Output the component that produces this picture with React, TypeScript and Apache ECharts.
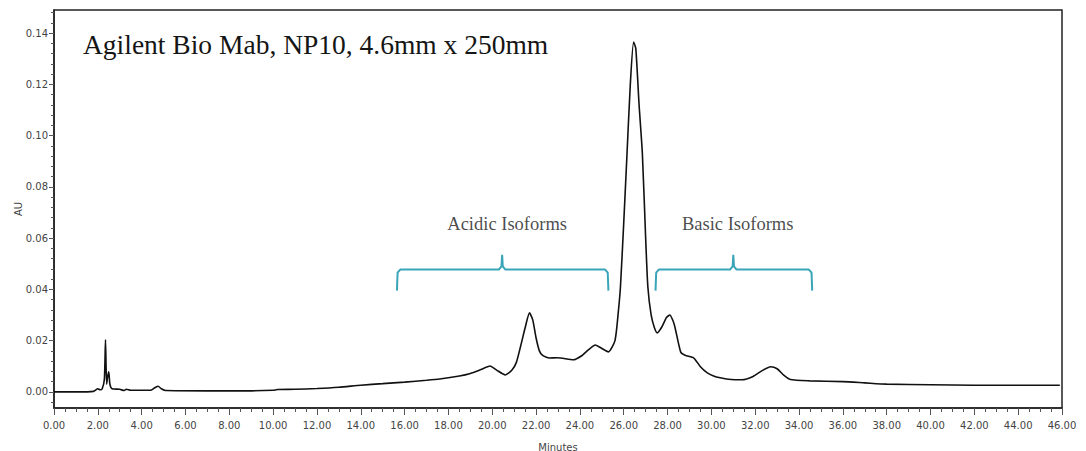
import React, { useEffect, useRef } from "react";
import * as echarts from "echarts";

// Chromatogram trace: retention time (minutes) and absorbance (AU)
const times: number[] = [
  0.0, 1.0, 1.8, 2.0, 2.1, 2.2, 2.3, 2.35, 2.4, 2.45, 2.5, 2.55, 2.65, 3.0, 3.2, 3.3, 3.5,
  4.4, 4.6, 4.75, 4.9, 5.1, 7.0, 9.0, 10.0, 10.2, 11.0, 12.0, 13.0, 14.0, 15.0, 16.0, 17.0,
  17.6, 18.5, 19.0, 19.45, 19.9, 20.2, 20.6, 20.9, 21.1, 21.3, 21.5, 21.7, 21.85, 22.0, 22.15,
  22.3, 22.6, 22.97, 23.7, 24.1, 24.4, 24.7, 24.95, 25.3, 25.6, 25.75, 25.85, 26.0, 26.15, 26.3,
  26.45, 26.55, 26.7, 26.85, 27.0, 27.1, 27.25, 27.4, 27.53, 27.75, 27.95, 28.1, 28.3, 28.6,
  28.8, 29.2, 29.5, 29.8, 30.1, 30.4, 30.9, 31.4, 31.9, 32.3, 32.7, 33.0, 33.3, 33.6, 34.5,
  36.0, 37.0, 38.0, 40.0, 42.0, 44.0, 45.9,
];
const absorbance: number[] = [
  0.0, 0.0, 0.0002, 0.0012, 0.0008, 0.0012, 0.005, 0.0203, 0.003, 0.006, 0.0078, 0.003, 0.0012,
  0.001, 0.0005, 0.001, 0.0006, 0.0006, 0.0016, 0.0022, 0.0012, 0.0005, 0.0004, 0.0004, 0.0006,
  0.0009, 0.001, 0.0013, 0.0018, 0.0026, 0.0032, 0.0038, 0.0045, 0.005, 0.0062, 0.0072, 0.0086,
  0.0101, 0.0085, 0.0066, 0.0085, 0.0115, 0.018, 0.025, 0.0308, 0.028, 0.021, 0.016, 0.0142,
  0.0132, 0.0133, 0.0125, 0.0142, 0.0165, 0.0183, 0.0172, 0.0156, 0.02, 0.031, 0.041, 0.066,
  0.093, 0.12, 0.1365, 0.134, 0.112, 0.093, 0.06, 0.041, 0.03, 0.025, 0.023, 0.0255, 0.029,
  0.03, 0.0265, 0.0155, 0.0143, 0.0132, 0.0098, 0.0075, 0.0062, 0.0055, 0.0048, 0.0047, 0.006,
  0.0082, 0.0098, 0.009, 0.0065, 0.0048, 0.0043, 0.004, 0.0035, 0.003, 0.0028, 0.0026, 0.0026,
  0.0026,
];

// Y tick values (AU)
const yMajorTicks: number[] = [0, 0.02, 0.04, 0.06, 0.08, 0.1, 0.12, 0.14];
const yMinorTicks: number[] = [
  -0.004, 0.004, 0.008, 0.012, 0.016, 0.024, 0.028, 0.032, 0.036, 0.044, 0.048, 0.052, 0.056,
  0.064, 0.068, 0.072, 0.076, 0.084, 0.088, 0.092, 0.096, 0.104, 0.108, 0.112, 0.116, 0.124,
  0.128, 0.132, 0.136, 0.144, 0.148,
];

// Annotation brackets (minutes / AU)
const acidicBracketX: number[] = [15.65, 15.68, 15.8, 20.3, 20.42, 20.45, 20.48, 20.6, 25.15, 25.27, 25.3];
const basicBracketX: number[] = [27.45, 27.48, 27.6, 30.85, 30.97, 31.0, 31.03, 31.15, 34.45, 34.57, 34.6];
const bracketY: number[] = [0.0395, 0.0465, 0.0477, 0.0477, 0.049, 0.0535, 0.049, 0.0477, 0.0477, 0.0465, 0.0395];
const regionLabels: string[] = ["Acidic Isoforms", "Basic Isoforms"];
const regionLabelX: number[] = [20.68, 31.2];
const regionLabelY: number[] = [0.0655, 0.0655];

const TITLE = "Agilent Bio Mab, NP10, 4.6mm x 250mm";

export default function App() {
  const ref = useRef<HTMLDivElement>(null);
  useEffect(() => {
    document.body.style.margin = "0";
    const chart = echarts.init(ref.current!, null, { renderer: "svg" });
    const yMin = -0.0063;
    const yMax = 0.149;
    const tickColor = "#555";
    const labelColor = "#444";
    const labelFont = "DejaVu Sans";
    const bracketColor = "#3aa5b8";
    chart.setOption({
      animation: false,
      backgroundColor: "#fff",
      title: {
        text: TITLE,
        left: 83,
        top: 30,
        padding: 0,
        textStyle: { fontFamily: "Liberation Serif", fontSize: 27.5, fontWeight: "normal", color: "#151515" },
      },
      grid: {
        left: 54,
        right: 24,
        top: 10,
        bottom: 43,
        outerBoundsMode: "none",
        containLabel: false,
        show: true,
        borderColor: "#222",
        borderWidth: 1.5,
      },
      xAxis: {
        type: "value",
        min: 0,
        max: 46,
        interval: 2,
        name: "Minutes",
        nameLocation: "middle",
        nameGap: 34,
        nameTextStyle: { fontFamily: labelFont, fontSize: 10, color: labelColor },
        axisLine: { show: true, onZero: false, lineStyle: { color: "#222", width: 1.5 } },
        axisTick: { show: true, length: 7, lineStyle: { color: tickColor } },
        minorTick: { show: true, splitNumber: 4, length: 4, lineStyle: { color: tickColor } },
        splitLine: { show: false },
        axisLabel: {
          fontFamily: labelFont,
          fontSize: 10,
          color: labelColor,
          margin: 12,
          formatter: (v: number) => v.toFixed(2),
        },
      },
      yAxis: [
        {
          type: "value",
          min: yMin,
          max: yMax,
          position: "left",
          name: "AU",
          nameLocation: "middle",
          nameGap: 31,
          nameMoveOverlap: false,
          nameRotate: 90,
          nameTextStyle: { fontFamily: labelFont, fontSize: 10, color: labelColor },
          axisLine: { show: true, onZero: false, lineStyle: { color: "#222", width: 1.5 } },
          axisTick: { show: true, length: 5, customValues: yMajorTicks, lineStyle: { color: tickColor } },
          splitLine: { show: false },
          axisLabel: {
            customValues: yMajorTicks,
            fontFamily: labelFont,
            fontSize: 10,
            color: labelColor,
            margin: 6,
            formatter: (v: number) => v.toFixed(2),
          },
        },
        {
          type: "value",
          min: yMin,
          max: yMax,
          position: "left",
          axisLine: { show: false },
          axisTick: { show: true, length: 3, customValues: yMinorTicks, lineStyle: { color: tickColor } },
          splitLine: { show: false },
          axisLabel: { show: false },
        },
      ],
      series: [
        {
          type: "line",
          data: times.map((t, i) => [t, absorbance[i]]),
          showSymbol: false,
          smooth: 0.2,
          lineStyle: { color: "#111", width: 1.6 },
          z: 3,
        },
        {
          type: "line",
          data: acidicBracketX.map((x, i) => [x, bracketY[i]]),
          showSymbol: false,
          lineStyle: { color: bracketColor, width: 2 },
        },
        {
          type: "line",
          data: basicBracketX.map((x, i) => [x, bracketY[i]]),
          showSymbol: false,
          lineStyle: { color: bracketColor, width: 2 },
        },
        {
          type: "scatter",
          symbolSize: 0,
          data: regionLabels.map((name, i) => [regionLabelX[i], regionLabelY[i], name]),
          label: {
            show: true,
            position: "inside",
            formatter: (p: any) => p.value[2],
            fontFamily: "Liberation Serif",
            fontSize: 18.5,
            color: "#1a1a1a",
          },
        },
      ],
    });
    return () => chart.dispose();
  }, []);
  return <div ref={ref} style={{ width: 1086, height: 451 }} />;
}
